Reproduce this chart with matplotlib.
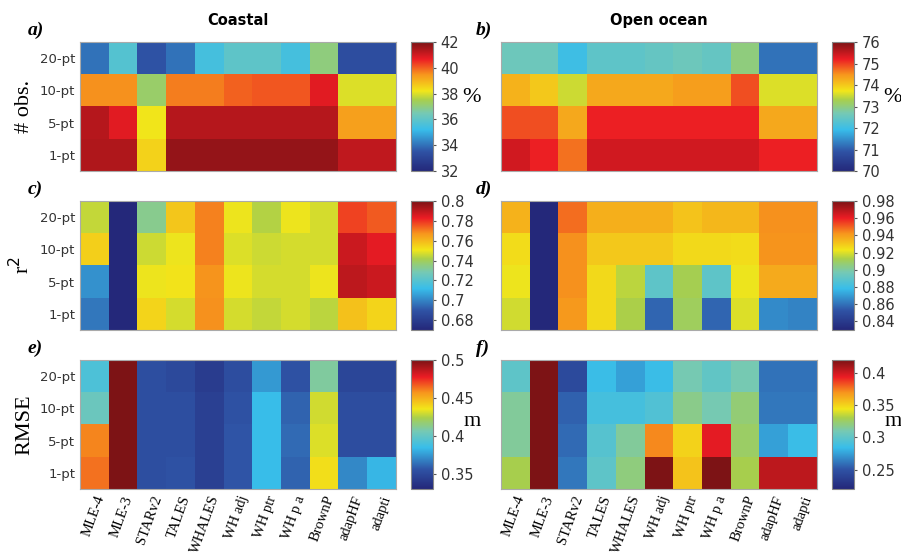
import numpy as np
import matplotlib
matplotlib.use('Agg')
import matplotlib.pyplot as plt
from matplotlib.colors import LinearSegmentedColormap

methods = ['MLE-4', 'MLE-3', 'STARv2', 'TALES', 'WHALES', 'WH adj', 'WH ptr',
           'WH p a', 'BrownP', 'adapHF', 'adapti']
rows = ['20-pt', '10-pt', '5-pt', '1-pt']

# a) coastal, % of obs
obs_coast = [
    [34.0, 35.8, 33.5, 34.0, 35.5, 36.0, 36.0, 35.5, 37.0, 33.3, 33.3],
    [39.5, 39.5, 37.2, 39.7, 39.7, 40.0, 40.1, 40.1, 40.8, 38.0, 38.0],
    [41.3, 40.8, 38.2, 41.3, 41.3, 41.3, 41.3, 41.3, 41.3, 39.3, 39.3],
    [41.4, 41.4, 38.5, 41.7, 41.7, 41.7, 41.7, 41.7, 41.7, 41.2, 41.2],
]
# b) open ocean, % of obs
obs_open = [
    [72.6, 72.6, 72.0, 72.4, 72.4, 72.5, 72.6, 72.5, 73.0, 71.2, 71.2],
    [74.2, 74.0, 73.5, 74.3, 74.3, 74.3, 74.4, 74.4, 74.9, 73.6, 73.6],
    [74.9, 74.9, 74.3, 75.2, 75.2, 75.2, 75.2, 75.2, 75.2, 74.3, 74.3],
    [75.4, 75.2, 74.7, 75.4, 75.4, 75.4, 75.4, 75.4, 75.4, 75.2, 75.2],
]
# c) coastal r2
r2_coast = [
    [0.745, 0.67, 0.733, 0.757, 0.770, 0.750, 0.743, 0.750, 0.747, 0.778, 0.775],
    [0.755, 0.67, 0.746, 0.750, 0.770, 0.748, 0.746, 0.747, 0.747, 0.788, 0.784],
    [0.703, 0.67, 0.750, 0.751, 0.767, 0.750, 0.747, 0.747, 0.750, 0.790, 0.788],
    [0.697, 0.67, 0.754, 0.747, 0.768, 0.747, 0.745, 0.747, 0.744, 0.758, 0.754],
]
# d) open ocean r2
r2_open = [
    [0.935, 0.83, 0.948, 0.936, 0.936, 0.936, 0.931, 0.934, 0.934, 0.943, 0.943],
    [0.925, 0.83, 0.943, 0.930, 0.930, 0.930, 0.926, 0.926, 0.925, 0.942, 0.942],
    [0.922, 0.83, 0.943, 0.926, 0.915, 0.890, 0.912, 0.890, 0.922, 0.937, 0.937],
    [0.918, 0.83, 0.941, 0.926, 0.913, 0.857, 0.910, 0.857, 0.920, 0.866, 0.864],
]
# e) coastal RMSE
rmse_coast = [
    [0.392, 0.50, 0.353, 0.350, 0.342, 0.352, 0.375, 0.355, 0.410, 0.348, 0.348],
    [0.403, 0.50, 0.353, 0.353, 0.345, 0.355, 0.385, 0.360, 0.430, 0.352, 0.352],
    [0.460, 0.50, 0.353, 0.353, 0.345, 0.356, 0.385, 0.362, 0.432, 0.352, 0.352],
    [0.463, 0.50, 0.353, 0.355, 0.345, 0.356, 0.385, 0.360, 0.437, 0.370, 0.383],
]
# f) open ocean RMSE
rmse_open = [
    [0.300, 0.42, 0.245, 0.285, 0.275, 0.285, 0.310, 0.302, 0.310, 0.260, 0.260],
    [0.315, 0.42, 0.255, 0.290, 0.290, 0.295, 0.318, 0.310, 0.322, 0.262, 0.262],
    [0.315, 0.42, 0.258, 0.297, 0.315, 0.372, 0.350, 0.395, 0.325, 0.275, 0.285],
    [0.330, 0.42, 0.262, 0.300, 0.320, 0.420, 0.355, 0.420, 0.330, 0.405, 0.405],
]

# soft jet
cmap = LinearSegmentedColormap.from_list('softjet', [
    (0.00, '#24287a'), (0.15, '#2f53a5'), (0.32, '#38bdea'),
    (0.45, '#76c9b4'), (0.55, '#a8cf4c'), (0.62, '#f2e61a'),
    (0.75, '#f7941d'), (0.87, '#ec1c24'), (1.00, '#7d1315')])

fig = plt.figure(figsize=(9.01, 5.56), dpi=100)

panels = [
    (obs_coast, 32, 42, np.arange(32, 43, 2), 'a)', '# obs.', '%'),
    (obs_open, 70, 76, np.arange(70, 77, 1), 'b)', None, '%'),
    (r2_coast, 0.67, 0.80, [0.68, 0.70, 0.72, 0.74, 0.76, 0.78, 0.80], 'c)', 'r$^2$', None),
    (r2_open, 0.83, 0.98, [0.84, 0.86, 0.88, 0.90, 0.92, 0.94, 0.96, 0.98], 'd)', None, None),
    (rmse_coast, 0.33, 0.50, [0.35, 0.40, 0.45, 0.50], 'e)', 'RMSE', 'm'),
    (rmse_open, 0.22, 0.42, [0.25, 0.30, 0.35, 0.40], 'f)', None, 'm'),
]

lefts = [0.0888, 0.556]
cb_lefts = [0.4562, 0.9234]
bottoms = [0.6924, 0.4065, 0.1205]
w, h = 0.3507, 0.232

for k, (vals, vmin, vmax, ticks, tag, ylab, unit) in enumerate(panels):
    r, c = k // 2, k % 2
    ax = fig.add_axes([lefts[c], bottoms[r], w, h])
    im = ax.imshow(np.array(vals), cmap=cmap, vmin=vmin, vmax=vmax,
                   aspect='auto', interpolation='nearest')
    if c == 0:
        ax.set_yticks(range(len(rows)))
        ax.set_yticklabels(rows, fontsize=9.5, color='#333333')
    else:
        ax.set_yticks([])
    ax.tick_params(length=0)
    for s in ax.spines.values():
        s.set_color('#aaaaaa')
        s.set_linewidth(0.8)
    if r == 2:
        ax.set_xticks(range(len(methods)))
        ax.set_xticklabels(methods, rotation=70, ha='right', va='top',
                           rotation_mode='anchor', family='Liberation Serif',
                           fontsize=10.5)
    else:
        ax.set_xticks([])
    if ylab:
        ax.set_ylabel(ylab, family='Liberation Serif', fontsize=16, labelpad=4)
    ax.text(-0.165 if c == 0 else -0.08, 1.02, tag, transform=ax.transAxes,
            family='Liberation Serif', style='italic', weight='bold',
            fontsize=14, ha='left', va='bottom')
    if r == 0:
        ax.set_title('Coastal' if c == 0 else 'Open ocean', fontsize=10.5,
                     weight='bold', pad=12)

    cax = fig.add_axes([cb_lefts[c], bottoms[r], 0.0244, h])
    cb = fig.colorbar(im, cax=cax, ticks=ticks)
    cb.ax.set_yticklabels(['%g' % t for t in ticks], fontsize=10.5, color='#333333')
    cb.ax.tick_params(length=2, color='#555555')
    cb.outline.set_edgecolor('#888888')
    cb.outline.set_linewidth(0.8)
    if unit:
        ufrac = 0.57 if unit == '%' else 0.52
        fig.text(cb_lefts[c] + 0.0244 + 0.043, bottoms[r] + h * ufrac, unit,
                 family='Liberation Serif', fontsize=16, ha='center', va='center')

plt.savefig('out.png', dpi=100)
